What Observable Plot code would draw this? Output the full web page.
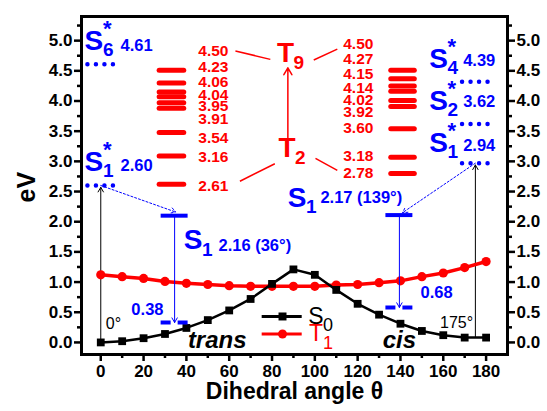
<!DOCTYPE html>
<html><head><meta charset="utf-8">
<script src="https://cdn.jsdelivr.net/npm/d3@7"></script>
<script src="https://cdn.jsdelivr.net/npm/@observablehq/plot@0.6"></script>
<style>
body{margin:0;background:#fff;}
</style></head><body><div id="chart"></div>
<script>
// ---------- data ----------
const angles = [0,10,20,30,40,50,60,70,80,90,100,110,120,130,140,150,160,170,180];
const S0 = [0.00,0.02,0.07,0.14,0.24,0.37,0.53,0.72,0.97,1.21,1.12,0.87,0.64,0.46,0.31,0.19,0.12,0.08,0.08];
const T1 = [1.12,1.09,1.06,1.01,0.98,0.96,0.94,0.93,0.93,0.93,0.93,0.95,0.96,0.99,1.02,1.09,1.15,1.24,1.34];

// triplet manifolds (red bars as drawn, and their labels)
const tripTransLevels = [4.51,4.30,4.15,4.07,3.97,3.88,3.48,3.09,2.62];
const tripTransLabels = ["4.50","4.23","4.06","4.04","3.95","3.91","3.54","3.16","2.61"];
const tripCisLevels = [4.51,4.37,4.25,4.16,4.01,3.91,3.54,3.07,2.80];
const tripCisLabels = ["4.50","4.27","4.15","4.14","4.02","3.92","3.60","3.18","2.78"];

// singlet excited states (blue dotted levels)
const singTransLevels = [4.61, 2.60];
const singTransNames = ["6", "1"];
const singTransLabels = ["4.61", "2.60"];
const singCisLevels = [4.32, 3.62, 2.97];
const singCisNames = ["4", "2", "1"];
const singCisLabels = ["4.39", "3.62", "2.94"];

// relaxed S1 minima and S0 at S1 geometry
const s1Angles = [34.5, 139.5];
const s1Levels = [2.10, 2.11];
const s1Labels = ["2.16 (36°)", "2.17 (139°)"];
const s0AtS1 = [0.33, 0.58];
const s0AtS1Labels = ["0.38", "0.68"];

// vertical excitation geometries
const excAngles = [0, 175];
const excLabels = ["0°", "175°"];
const excBase = [0.0, 0.08];
const excTop = [2.57, 2.94];

// ---------- layout (annotation placement, in axis units) ----------
const FONT = "'Liberation Sans', Arial, Helvetica, sans-serif";
const BLUE = "#0000ff", RED = "#ff0000";
const tripTransX = [27.5, 39], tripCisX = [135.7, 146.7];
const tripTransLabelX = 52.6, tripCisLabelX = 120.3;
const tripTransLabelY = [4.82,4.57,4.31,4.10,3.91,3.70,3.38,3.07,2.59];
const tripCisLabelY = [4.94,4.70,4.45,4.22,4.02,3.82,3.55,3.09,2.81];
const singTransS = {x: -3.2, y: [5.00, 2.99]}, singTransValX = 9.2, singTransValY = [4.91, 2.93];
const singCisS = {x: 157.8, y: [4.70, 4.00, 3.30]}, singCisValX = 169.3, singCisValY = [4.67, 3.98, 3.26];
const s1NameXY = [[43.1, 1.69], [91.7, 2.39]];
const s1ValXY = [[55, 1.61], [102.6, 2.39]];
const s0LabXY = [[21.8, 0.55], [156.9, 0.82]];
const excLabXY = [[5.95, 0.30], [166.2, 0.32]];

// ---------- build tables ----------
const curve = angles.map((a, i) => ({a, s0: S0[i], t1: T1[i]}));
const tripT = tripTransLevels.map((v, i) => ({v, lab: tripTransLabels[i], ly: tripTransLabelY[i]}));
const tripC = tripCisLevels.map((v, i) => ({v, lab: tripCisLabels[i], ly: tripCisLabelY[i]}));
const singNames = [
  ...singTransNames.map((n, i) => ({x: singTransS.x, y: singTransS.y[i], n, star: true})),
  ...singCisNames.map((n, i) => ({x: singCisS.x, y: singCisS.y[i], n, star: true})),
  ...s1Angles.map((a, i) => ({x: s1NameXY[i][0], y: s1NameXY[i][1], n: "1", star: false}))
];
const singVals = [
  ...singTransLabels.map((t, i) => ({x: singTransValX, y: singTransValY[i], t})),
  ...singCisLabels.map((t, i) => ({x: singCisValX, y: singCisValY[i], t}))
];
const singDots = [
  ...singTransLevels.map(v => ({v, c: excAngles[0]})),
  ...singCisLevels.map(v => ({v, c: excAngles[1]}))
];
const s1 = s1Angles.map((a, i) => ({a, v: s1Levels[i], lab: s1Labels[i], g: s0AtS1[i], glab: s0AtS1Labels[i],
  vx: s1ValXY[i][0], vy: s1ValXY[i][1], gx: s0LabXY[i][0], gy: s0LabXY[i][1]}));
const exc = excAngles.map((a, i) => ({a, b: excBase[i], t: excTop[i], lab: excLabels[i], lx: excLabXY[i][0], ly: excLabXY[i][1]}));
const dotted = [
  {x1: excAngles[0], y1: singTransLevels[1], x2: 35, y2: 2.16},
  {x1: excAngles[1], y1: singCisLevels[2], x2: 141, y2: 2.15}
];
const tNames = [{x: 86.3, y: 4.80, n: "9"}, {x: 87.0, y: 3.22, n: "2"}];
const tLinks = [
  {x1: 62.9, y1: 4.83, x2: 79.2, y2: 4.69},
  {x1: 99.5, y1: 4.68, x2: 110.5, y2: 4.86},
  {x1: 81.3, y1: 2.96, x2: 65.0, y2: 2.67},
  {x1: 100.3, y1: 3.05, x2: 110.5, y2: 2.85}
];
const legend = [{name: "S", sub: "0", y: 0.43, color: "black", symbol: "square"},
                {name: "T", sub: "1", y: 0.14, color: RED, symbol: "circle"}];

const yMajor = [0,0.5,1,1.5,2,2.5,3,3.5,4,4.5,5];
const yMinor = [0.25,0.75,1.25,1.75,2.25,2.75,3.25,3.75,4.25,4.75,5.25];
const xMajor = [0,20,40,60,80,100,120,140,160,180];
const xMinor = [10,30,50,70,90,110,130,150,170];

const axisStyle = {fontSize: 17, fontWeight: "bold", fill: "black", strokeWidth: 2.5, label: null};
const LAB = 16.5, RLAB = 15.5;

const chart = Plot.plot({
  width: 547, height: 411,
  marginLeft: 81, marginRight: 40, marginTop: 16, marginBottom: 57,
  x: {domain: [-9, 190]},
  y: {domain: [-0.2, 5.4]},
  style: {fontFamily: FONT, background: "white", color: "black", overflow: "visible"},
  marks: [
    // axes
    Plot.axisY({...axisStyle, anchor: "left", ticks: yMajor, tickFormat: d3.format(".1f"), tickSize: 7, tickPadding: 2}),
    Plot.axisY({...axisStyle, anchor: "left", ticks: yMinor, tickFormat: () => "", tickSize: 4}),
    Plot.axisY({...axisStyle, anchor: "right", ticks: yMajor, tickFormat: d3.format(".1f"), tickSize: 7, tickPadding: 2}),
    Plot.axisY({...axisStyle, anchor: "right", ticks: yMinor, tickFormat: () => "", tickSize: 4}),
    Plot.axisX({...axisStyle, anchor: "bottom", ticks: xMajor, tickSize: 7, tickPadding: 3}),
    Plot.axisX({...axisStyle, anchor: "bottom", ticks: xMinor, tickFormat: () => "", tickSize: 4}),
    Plot.text(["eV"], {frameAnchor: "left", dx: -55, dy: 17, rotate: -90, fontSize: 25, fontWeight: "bold", fill: "black"}),
    Plot.text(["Dihedral angle θ"], {frameAnchor: "bottom", dy: 44, fontSize: 23, fontWeight: "bold", fill: "black"}),

    // vertical excitations (black)
    Plot.arrow(exc, {x1: "a", y1: "b", x2: "a", y2: "t", stroke: "black", strokeWidth: 1, headLength: 8}),
    Plot.text(exc, {x: "lx", y: "ly", text: "lab", fontSize: 16, fill: "black"}),

    // curves
    Plot.line(curve, {x: "a", y: "t1", stroke: RED, strokeWidth: 3.5}),
    Plot.dot(curve, {x: "a", y: "t1", fill: RED, r: 4.6, symbol: "circle"}),
    Plot.line(curve, {x: "a", y: "s0", stroke: "black", strokeWidth: 2.5}),
    Plot.dot(curve, {x: "a", y: "s0", fill: "black", r: 4.4, symbol: "square"}),

    // triplet manifolds
    Plot.ruleY(tripT, {y: "v", x1: tripTransX[0], x2: tripTransX[1], stroke: RED, strokeWidth: 5, strokeLinecap: "round"}),
    Plot.ruleY(tripC, {y: "v", x1: tripCisX[0], x2: tripCisX[1], stroke: RED, strokeWidth: 5, strokeLinecap: "round"}),
    Plot.text(tripT, {x: tripTransLabelX, y: "ly", text: "lab", fill: RED, fontSize: RLAB, fontWeight: "bold"}),
    Plot.text(tripC, {x: tripCisLabelX, y: "ly", text: "lab", fill: RED, fontSize: RLAB, fontWeight: "bold"}),
    Plot.link(tLinks, {x1: "x1", y1: "y1", x2: "x2", y2: "y2", stroke: RED, strokeWidth: 1.5}),
    Plot.arrow([tNames], {x1: () => 87.4, y1: () => 3.39, x2: () => 87.4, y2: () => 4.55, stroke: RED, strokeWidth: 1.5, headLength: 8}),
    Plot.text(tNames, {x: "x", y: "y", text: () => "T", fill: RED, fontSize: 28, fontWeight: "bold"}),
    Plot.text(tNames, {x: "x", y: "y", text: "n", dx: 8, dy: 10, textAnchor: "start", fill: RED, fontSize: 19, fontWeight: "bold"}),

    // singlet levels (blue dotted)
    Plot.ruleY(singDots, {y: "v", x1: d => d.c - 6, x2: d => d.c + 6.05, stroke: BLUE, strokeWidth: 4.5, strokeLinecap: "round", strokeDasharray: "0,8.5"}),
    Plot.text(singNames, {x: "x", y: "y", text: () => "S", fill: BLUE, fontSize: 28, fontWeight: "bold"}),
    Plot.text(singNames, {x: "x", y: "y", text: "n", dx: 9, dy: 9, textAnchor: "start", fill: BLUE, fontSize: 19, fontWeight: "bold"}),
    Plot.text(singNames.filter(d => d.star), {x: "x", y: "y", text: () => "*", dx: 9, dy: -12, textAnchor: "start", fill: BLUE, fontSize: 22, fontWeight: "bold"}),
    Plot.text(singVals, {x: "x", y: "y", text: "t", textAnchor: "start", fill: BLUE, fontSize: LAB, fontWeight: "bold"}),

    // relaxation paths
    Plot.arrow(dotted, {x1: "x1", y1: "y1", x2: "x2", y2: "y2", stroke: BLUE, strokeWidth: 1, strokeDasharray: "2,2", headLength: 8}),
    Plot.ruleY(s1, {y: "v", x1: d => d.a - 6.3, x2: d => d.a + 6.3, stroke: BLUE, strokeWidth: 4}),
    Plot.arrow(s1, {x1: "a", y1: "v", x2: "a", y2: "g", stroke: BLUE, strokeWidth: 1, headLength: 8}),
    Plot.ruleY(s1, {y: "g", x1: d => d.a - 6.3, x2: d => d.a + 6.3, stroke: BLUE, strokeWidth: 4, strokeDasharray: "10,7"}),
    Plot.text(s1, {x: "vx", y: "vy", text: "lab", textAnchor: "start", fill: BLUE, fontSize: LAB, fontWeight: "bold"}),
    Plot.text(s1, {x: "gx", y: "gy", text: "glab", fill: BLUE, fontSize: LAB, fontWeight: "bold"}),

    // trans / cis
    Plot.text([{x: 54.4, y: 0.04, t: "trans"}, {x: 139.5, y: 0.04, t: "cis"}], {x: "x", y: "y", text: "t", fill: "black", fontSize: 24, fontStyle: "italic", fontWeight: "bold"}),

    // legend
    Plot.ruleY(legend, {y: "y", x1: 75.4, x2: 94.1, stroke: "color", strokeWidth: 3}),
    Plot.dot(legend, {x: 84.9, y: "y", fill: "color", symbol: "symbol", r: 4.5}),
    Plot.text(legend, {x: 100.5, y: "y", text: "name", fill: "color", fontSize: 23}),
    Plot.text(legend, {x: 100.5, y: "y", text: "sub", dx: 7, dy: 9, textAnchor: "start", fill: "color", fontSize: 18}),

    Plot.frame({stroke: "black", strokeWidth: 3})
  ]
});
document.getElementById("chart").appendChild(chart);
</script>
</body></html>
